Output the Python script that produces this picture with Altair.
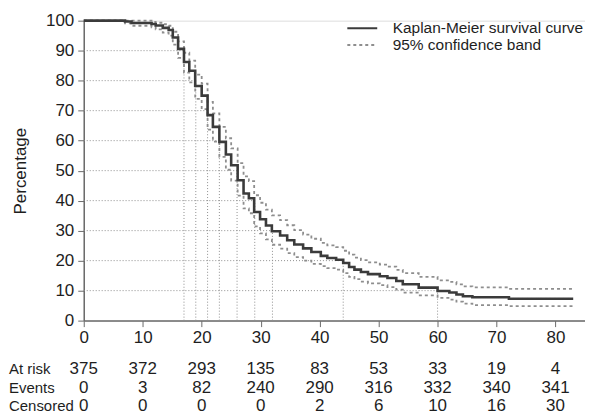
import altair as alt
import pandas as pd

# ---------------- data ----------------
times = [0, 7.0, 8.1, 11.5, 12.2, 13.4, 14.4, 15.1, 16.0, 17.0, 17.9, 18.9, 20.0,
         21.0, 21.9, 23.0, 24.1, 25.0, 26.1, 27.1, 28.0, 28.9, 29.9, 30.9, 31.9,
         33.3, 34.5, 35.7, 37.2, 38.6, 40.2, 41.3, 42.8, 44.0, 45.0, 45.9, 47.0,
         48.2, 50.2, 51.5, 53.0, 54.1, 56.8, 60.0, 62.0, 63.2, 64.3, 65.9, 72.1, 83.0]
km_vals = [100, 99.7, 99.2, 98.9, 98.4, 97.6, 96.9, 94.4, 90.6, 86.2, 83.3, 78.2, 75.0,
           68.5, 64.6, 59.6, 55.4, 51.8, 46.8, 42.4, 40.8, 36.2, 33.8, 31.7, 29.8,
           28.4, 26.8, 25.4, 24.1, 22.9, 21.6, 20.9, 20.3, 19.2, 17.9, 17.0, 16.2,
           15.5, 14.8, 14.2, 13.2, 12.1, 11.0, 9.9, 9.4, 8.7, 8.1, 7.8, 7.3, 7.3]
lower_vals = [100, 99.1, 98.3, 97.8, 97.1, 96.0, 95.0, 92.0, 87.6, 82.7, 79.4, 73.9, 70.5,
              63.7, 59.7, 54.6, 50.3, 46.7, 41.7, 37.4, 35.8, 31.4, 29.1, 27.1, 25.3,
              24.0, 22.5, 21.2, 20.0, 18.9, 18.2, 17.5, 17.0, 15.8, 14.6, 13.8, 13.0,
              12.4, 11.8, 11.2, 10.3, 9.3, 8.4, 7.6, 7.0, 6.3, 5.7, 5.2, 4.8, 4.8]
upper_vals = [100, 100, 100, 99.6, 99.3, 98.8, 98.3, 96.3, 93.1, 89.3, 86.7, 82.0, 79.0,
              72.9, 69.1, 64.6, 60.8, 57.4, 52.5, 48.1, 46.5, 41.8, 39.3, 37.0, 35.1,
              33.5, 31.8, 30.2, 28.7, 27.3, 25.9, 25.1, 24.5, 23.3, 22.0, 21.0, 20.2,
              19.4, 18.7, 18.0, 16.9, 15.8, 14.6, 13.4, 12.9, 12.1, 11.4, 11.1, 10.6, 10.6]

pct_levels = [90, 80, 70, 60, 50, 40, 30, 20, 10]
pct_times = [17, 19, 21, 23, 26, 29, 32, 44, 60]

table_ticks = [0, 10, 20, 30, 40, 50, 60, 70, 80]
y_ticks = [0, 10, 20, 30, 40, 50, 60, 70, 80, 90, 100]
at_risk = [375, 372, 293, 135, 83, 53, 33, 19, 4]
events = [0, 3, 82, 240, 290, 316, 332, 340, 341]
censored = [0, 0, 0, 0, 2, 6, 10, 16, 30]
row_labels = ["At risk", "Events", "Censored"]

KM_NAME = "Kaplan-Meier survival curve"
CI_NAME = "95% confidence band"

# ---------------- frames ----------------
km_df = pd.DataFrame({"t": times, "value": km_vals, "series": KM_NAME, "bound": "km"})
ci_df = pd.concat([
    pd.DataFrame({"t": times, "value": lower_vals, "series": CI_NAME, "bound": "lower"}),
    pd.DataFrame({"t": times, "value": upper_vals, "series": CI_NAME, "bound": "upper"}),
], ignore_index=True)
pct_df = pd.DataFrame({"t": pct_times, "p": pct_levels, "zero": 0})

tbl_rows = []
for r, vals in zip(row_labels, [at_risk, events, censored]):
    for t, v in zip(table_ticks, vals):
        tbl_rows.append({"t": t, "row": r, "value": str(v)})
tbl_df = pd.DataFrame(tbl_rows)
lbl_df = pd.DataFrame({"row": row_labels, "label": row_labels})

# ---------------- style ----------------
FONT = "Liberation Sans"
TXT = "#1e1e1e"
AX = "#6a6a6a"
GRID = "#8f8f8f"
W, H = 503, 301

x_scale = alt.Scale(domain=[0, 85], nice=False, zero=False)
y_scale = alt.Scale(domain=[0, 100], nice=False)
color_scale = alt.Scale(domain=[KM_NAME, CI_NAME], range=["#3b3b3b", "#8e8e8e"])
dash_scale = alt.Scale(domain=[KM_NAME, CI_NAME], range=[[1, 0], [3, 3]])

legend = alt.Legend(
    orient="none", legendX=271, legendY=-1, title=None,
    symbolType="M-2,0H2", symbolSize=225, symbolStrokeWidth=2,
    labelFontSize=15.5, labelFont=FONT, labelColor=TXT, labelOffset=22,
    labelLimit=0, rowPadding=0,
)

x_axis = alt.Axis(values=table_ticks, title=None, grid=False, labelFontSize=17,
                  labelFont=FONT, labelColor=TXT, tickSize=6, labelPadding=3,
                  domainColor=AX, tickColor=AX, domainWidth=1.5, labelFlush=False,
                  labelOverlap=False)
y_axis = alt.Axis(values=y_ticks, title="Percentage", grid=False,
                  labelFontSize=17, labelFont=FONT, labelColor=TXT, tickSize=6,
                  labelPadding=4, domainColor=AX, tickColor=AX, domainWidth=1.5,
                  titleFontSize=17, titleFont=FONT, titleFontWeight="normal",
                  titleColor=TXT, titlePadding=16, labelOverlap=False,
                  labelFlush=False)

h_rules = alt.Chart(pct_df).mark_rule(color=GRID, strokeDash=[1, 2], strokeWidth=1).encode(
    x=alt.X("zero:Q", scale=x_scale, axis=x_axis),
    x2="t:Q",
    y=alt.Y("p:Q", scale=y_scale, axis=y_axis),
)
v_rules = alt.Chart(pct_df).mark_rule(color=GRID, strokeDash=[1, 2], strokeWidth=1).encode(
    x=alt.X("t:Q", scale=x_scale, axis=x_axis),
    y=alt.Y("zero:Q", scale=y_scale, axis=y_axis),
    y2="p:Q",
)

ci_line = alt.Chart(ci_df).mark_line(interpolate="step-after", strokeWidth=1.8).encode(
    x=alt.X("t:Q", scale=x_scale, axis=x_axis),
    y=alt.Y("value:Q", scale=y_scale, axis=y_axis),
    detail="bound:N",
    color=alt.Color("series:N", scale=color_scale, legend=legend),
    strokeDash=alt.StrokeDash("series:N", scale=dash_scale, legend=legend),
)
km_line = alt.Chart(km_df).mark_line(interpolate="step-after", strokeWidth=2.6).encode(
    x=alt.X("t:Q", scale=x_scale, axis=x_axis),
    y=alt.Y("value:Q", scale=y_scale, axis=y_axis),
    color=alt.Color("series:N", scale=color_scale, legend=legend),
    strokeDash=alt.StrokeDash("series:N", scale=dash_scale, legend=legend),
)

plot_layer = alt.layer(h_rules, v_rules, ci_line, km_line)

row_scale = alt.Scale(type="point", domain=row_labels, range=[350, 386.7], padding=0)
tbl_text = alt.Chart(tbl_df).mark_text(fontSize=17, font=FONT, color=TXT,
                                       baseline="middle", align="center").encode(
    x=alt.X("t:Q", scale=x_scale, axis=x_axis),
    y=alt.Y("row:N", scale=row_scale, axis=None),
    text="value:N",
)
lbl_text = alt.Chart(lbl_df).mark_text(fontSize=15, font=FONT, color=TXT,
                                       baseline="middle", align="left").encode(
    x=alt.value(-75),
    y=alt.Y("row:N", scale=row_scale, axis=None),
    text="label:N",
)
table_layer = alt.layer(tbl_text, lbl_text)

chart = alt.layer(plot_layer, table_layer).resolve_scale(y="independent").properties(
    width=W, height=H,
    autosize=alt.AutoSizeParams(type="none"),
    padding={"left": 76, "top": 12, "right": 0, "bottom": 94},
).configure_view(stroke=None).configure_axis(
    labelOverlap=False, labelFlush=False
).configure(background="white")

chart.save("out.html", embed_options={"renderer": "svg", "actions": False})
